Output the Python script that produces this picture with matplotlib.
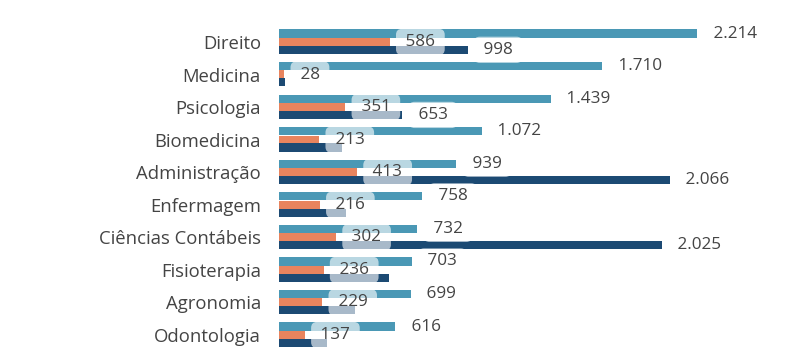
import numpy as np
import matplotlib.pyplot as plt

plt.rcParams['font.family'] = ['Open Sans', 'DejaVu Sans']

# data
cursos = ['Direito', 'Medicina', 'Psicologia', 'Biomedicina', 'Administração',
          'Enfermagem', 'Ciências Contábeis', 'Fisioterapia', 'Agronomia', 'Odontologia']
serie_a = [2214, 1710, 1439, 1072, 939, 758, 732, 703, 699, 616]   # teal
serie_b = [586, 28, 351, 213, 413, 216, 302, 236, 229, 137]        # salmon
serie_c = [998, 30, 653, 333, 2066, 354, 2025, 582, 402, 254]      # navy
mostra_c = [True, False, True, False, True, False, True, False, False, False]

cor_a = '#4A98B5'
cor_b = '#E8845E'
cor_c = '#1C4A73'
cor_txt = '#444444'

def fmt(v):
    return ' ' + f'{v:,}'.replace(',', '.') + ' '

fig = plt.figure(figsize=(7.99, 3.64), dpi=100)
ax = fig.add_axes([279 / 799, 0, 520 / 799, 1])

y = np.arange(len(cursos))
h = 0.25
off = [-0.26, 0.0, 0.24]

ax.barh(y + off[0], serie_a, height=h, color=cor_a, zorder=2)
ax.barh(y + off[1], serie_b, height=h, color=cor_b, zorder=2)
ax.barh(y + off[2], serie_c, height=h, color=cor_c, zorder=2)

ax.set_xlim(0, 2751)
ax.set_ylim(9.89, -1.29)

box = dict(boxstyle='round,pad=0.3,rounding_size=0.35', fc='white', ec='none', alpha=0.62)
dx = 60  # gap between bar end and label, data units
fs = 12.3

for i in range(len(cursos)):
    ax.text(serie_a[i] + dx, y[i] + off[0], fmt(serie_a[i]), va='center', ha='left',
            fontsize=fs, color=cor_txt, bbox=box, zorder=5)
    ax.text(serie_b[i] + dx, y[i] + off[1], fmt(serie_b[i]), va='center', ha='left',
            fontsize=fs, color=cor_txt, bbox=box, zorder=5)
    if mostra_c[i]:
        ax.text(serie_c[i] + dx, y[i] + off[2], fmt(serie_c[i]), va='center', ha='left',
                fontsize=fs, color=cor_txt, bbox=box, zorder=5)

ax.set_yticks(y)
ax.set_yticklabels(cursos, fontsize=13.3, color=cor_txt)
ax.tick_params(axis='y', length=0, pad=13)
ax.set_xticks([])
for s in ax.spines.values():
    s.set_visible(False)

fig.savefig('out.png', dpi=100)
